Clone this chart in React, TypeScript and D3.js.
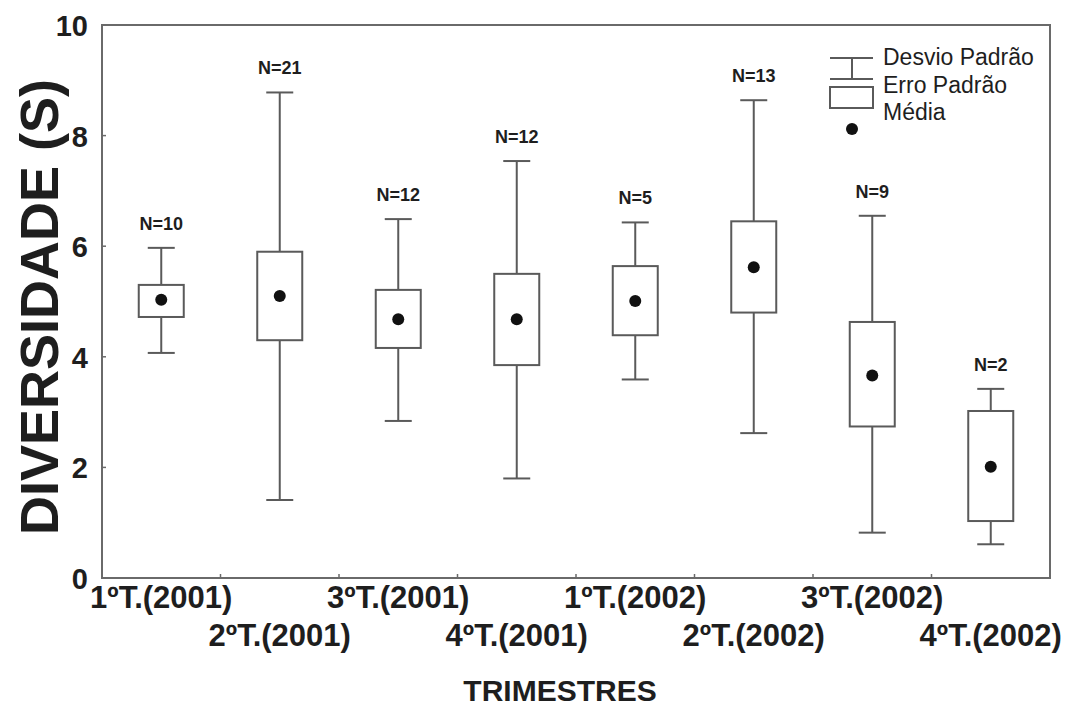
import { useEffect, useRef } from 'react';
import * as d3 from 'd3';

// Trimestres (x categories)
const categories = [
  '1ºT.(2001)',
  '2ºT.(2001)',
  '3ºT.(2001)',
  '4ºT.(2001)',
  '1ºT.(2002)',
  '2ºT.(2002)',
  '3ºT.(2002)',
  '4ºT.(2002)',
];

// Sample sizes
const counts = [10, 21, 12, 12, 5, 13, 9, 2];

// Média
const means = [5.03, 5.1, 4.68, 4.68, 5.01, 5.62, 3.66, 2.01];
// Erro padrão (box limits)
const boxHigh = [5.3, 5.9, 5.21, 5.5, 5.64, 6.45, 4.63, 3.02];
const boxLow = [4.72, 4.3, 4.16, 3.85, 4.39, 4.8, 2.74, 1.03];
// Desvio padrão (whisker limits)
const whiskerHigh = [5.97, 8.78, 6.49, 7.54, 6.43, 8.64, 6.55, 3.42];
const whiskerLow = [4.07, 1.41, 2.84, 1.8, 3.59, 2.62, 0.82, 0.61];

const yTicks = [0, 2, 4, 6, 8, 10];

const FONT = 'Liberation Sans, Arial, Helvetica, sans-serif';
const LINE = '#5a5a5a';
const TEXT = '#1e1e1e';

export default function App() {
  const svgRef = useRef<SVGSVGElement>(null);
  const width = 1068;
  const height = 708;

  useEffect(() => {
    if (!svgRef.current) return;
    const svg = d3.select(svgRef.current);
    svg.selectAll('*').remove();

    const left = 102;
    const right = 1050;
    const top = 25;
    const bottom = 578;

    const x = d3.scaleBand<string>().domain(categories).range([left, right]).padding(0);
    const y = d3.scaleLinear().domain([0, 10]).range([bottom, top]);

    const rows = categories.map((c, i) => ({
      cat: c,
      n: counts[i],
      mean: means[i],
      hi: boxHigh[i],
      lo: boxLow[i],
      wHi: whiskerHigh[i],
      wLo: whiskerLow[i],
      cx: (x(c) || 0) + x.bandwidth() / 2,
    }));

    // Frame
    svg
      .append('rect')
      .attr('x', left)
      .attr('y', top)
      .attr('width', right - left)
      .attr('height', bottom - top)
      .attr('fill', 'none')
      .attr('stroke', '#6a6a6a')
      .attr('stroke-width', 2);

    // Y ticks (inside) and labels
    yTicks.forEach((t) => {
      svg
        .append('line')
        .attr('x1', left)
        .attr('x2', left + 4)
        .attr('y1', y(t))
        .attr('y2', y(t))
        .attr('stroke', '#6a6a6a')
        .attr('stroke-width', 1.5);
      svg
        .append('text')
        .attr('x', 88)
        .attr('y', y(t) + 11)
        .attr('text-anchor', 'end')
        .attr('font-family', FONT)
        .attr('font-weight', 'bold')
        .attr('font-size', '29px')
        .attr('fill', TEXT)
        .text(t);
    });

    // X ticks at band boundaries
    categories.slice(1).forEach((c) => {
      const xb = x(c) || 0;
      svg
        .append('line')
        .attr('x1', xb)
        .attr('x2', xb)
        .attr('y1', bottom)
        .attr('y2', bottom - 4)
        .attr('stroke', '#6a6a6a')
        .attr('stroke-width', 1.5);
    });

    // X labels, staggered in two rows
    rows.forEach((d, i) => {
      svg
        .append('text')
        .attr('x', d.cx)
        .attr('y', i % 2 === 0 ? 608 : 646)
        .attr('text-anchor', 'middle')
        .attr('font-family', FONT)
        .attr('font-weight', 'bold')
        .attr('font-size', '31px')
        .attr('fill', TEXT)
        .text(d.cat);
    });

    // Axis titles
    svg
      .append('text')
      .attr('x', 560)
      .attr('y', 701)
      .attr('text-anchor', 'middle')
      .attr('font-family', FONT)
      .attr('font-weight', 'bold')
      .attr('font-size', '30px')
      .attr('fill', TEXT)
      .text('TRIMESTRES');

    svg
      .append('text')
      .attr('transform', 'translate(58,307) rotate(-90)')
      .attr('text-anchor', 'middle')
      .attr('font-family', FONT)
      .attr('font-weight', 'bold')
      .attr('font-size', '54px')
      .attr('fill', TEXT)
      .text('DIVERSIDADE (S)');

    const boxW = 45;
    const capW = 27;

    const g = svg.selectAll('.cat').data(rows).enter().append('g').attr('class', 'cat');

    // Whiskers
    g.append('line')
      .attr('x1', (d) => d.cx)
      .attr('x2', (d) => d.cx)
      .attr('y1', (d) => y(d.wHi))
      .attr('y2', (d) => y(d.wLo))
      .attr('stroke', LINE)
      .attr('stroke-width', 2);
    g.append('line')
      .attr('x1', (d) => d.cx - capW / 2)
      .attr('x2', (d) => d.cx + capW / 2)
      .attr('y1', (d) => y(d.wHi))
      .attr('y2', (d) => y(d.wHi))
      .attr('stroke', LINE)
      .attr('stroke-width', 2);
    g.append('line')
      .attr('x1', (d) => d.cx - capW / 2)
      .attr('x2', (d) => d.cx + capW / 2)
      .attr('y1', (d) => y(d.wLo))
      .attr('y2', (d) => y(d.wLo))
      .attr('stroke', LINE)
      .attr('stroke-width', 2);

    // Boxes
    g.append('rect')
      .attr('x', (d) => d.cx - boxW / 2)
      .attr('y', (d) => y(d.hi))
      .attr('width', boxW)
      .attr('height', (d) => y(d.lo) - y(d.hi))
      .attr('fill', '#ffffff')
      .attr('stroke', LINE)
      .attr('stroke-width', 2);

    // Means
    g.append('circle')
      .attr('cx', (d) => d.cx)
      .attr('cy', (d) => y(d.mean))
      .attr('r', 6)
      .attr('fill', '#111111');

    // N labels
    g.append('text')
      .attr('x', (d) => d.cx)
      .attr('y', (d) => y(d.wHi) - 18)
      .attr('text-anchor', 'middle')
      .attr('font-family', FONT)
      .attr('font-weight', 'bold')
      .attr('font-size', '18px')
      .attr('fill', TEXT)
      .text((d) => `N=${d.n}`);

    // Legend
    const lg = svg.append('g');
    lg.append('line').attr('x1', 830).attr('x2', 873).attr('y1', 58).attr('y2', 58).attr('stroke', LINE).attr('stroke-width', 2);
    lg.append('line').attr('x1', 852).attr('x2', 852).attr('y1', 58).attr('y2', 79).attr('stroke', LINE).attr('stroke-width', 2);
    lg.append('line').attr('x1', 830).attr('x2', 873).attr('y1', 79).attr('y2', 79).attr('stroke', LINE).attr('stroke-width', 2);
    lg.append('rect')
      .attr('x', 830)
      .attr('y', 87)
      .attr('width', 43)
      .attr('height', 21)
      .attr('fill', '#ffffff')
      .attr('stroke', LINE)
      .attr('stroke-width', 2);
    lg.append('circle').attr('cx', 852).attr('cy', 129).attr('r', 6).attr('fill', '#111111');

    const legendLabels = ['Desvio Padrão', 'Erro Padrão', 'Média'];
    legendLabels.forEach((label, i) => {
      lg.append('text')
        .attr('x', 883)
        .attr('y', 65 + i * 27.5)
        .attr('font-family', FONT)
        .attr('font-size', '23px')
        .attr('fill', TEXT)
        .text(label);
    });
  }, []);

  return (
    <svg
      ref={svgRef}
      width={width}
      height={height}
      style={{ position: 'absolute', left: 0, top: 0, background: '#ffffff' }}
    />
  );
}
